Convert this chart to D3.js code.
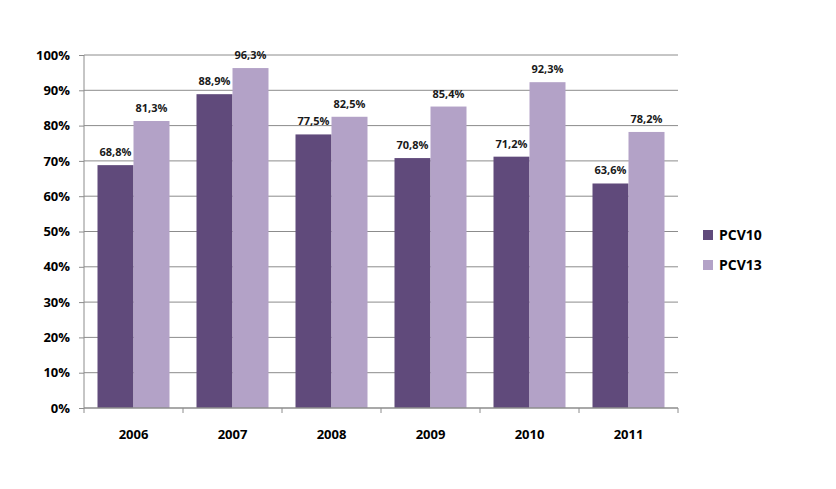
<!DOCTYPE html>
<html>
<head>
<meta charset="utf-8">
<script src="https://cdn.jsdelivr.net/npm/d3@7"></script>
<style>
  body { margin: 0; background: #fff; }
  svg { display: block; font-family: "Open Sans", "DejaVu Sans", sans-serif; }
</style>
</head>
<body>
<svg id="chart"></svg>
<script>
const years = ["2006", "2007", "2008", "2009", "2010", "2011"];
const seriesNames = ["PCV10", "PCV13"];
const pcv10 = [68.8, 88.9, 77.5, 70.8, 71.2, 63.6];
const pcv13 = [81.3, 96.3, 82.5, 85.4, 92.3, 78.2];
const yTicks = [0, 10, 20, 30, 40, 50, 60, 70, 80, 90, 100];
const colors = ["#604a7b", "#b3a2c7"];

const width = 836, height = 489;
const margin = { top: 55, right: 158, bottom: 81, left: 84 };

const svg = d3.select("#chart")
    .attr("width", width)
    .attr("height", height);

const x = d3.scaleBand()
    .domain(years)
    .range([margin.left, width - margin.right])
    .paddingInner(0)
    .paddingOuter(0);

// bars take about 72% of each category
const xInner = d3.scaleBand()
    .domain(seriesNames)
    .range([0, x.bandwidth()])
    .paddingOuter(0.375)
    .paddingInner(0);

const y = d3.scaleLinear()
    .domain([0, 100])
    .range([height - margin.bottom, margin.top]);

const rows = years.map((yr, i) => ({ year: yr, values: [pcv10[i], pcv13[i]] }));

// gridlines
svg.append("g")
    .selectAll("line")
    .data(yTicks.filter(d => d > 0))
    .join("line")
    .attr("x1", margin.left)
    .attr("x2", width - margin.right)
    .attr("y1", d => y(d))
    .attr("y2", d => y(d))
    .attr("stroke", "#8c8c8c")
    .attr("stroke-width", 1);

// bars
const groups = svg.append("g")
    .selectAll("g")
    .data(rows)
    .join("g")
    .attr("transform", d => `translate(${x(d.year)},0)`);

groups.selectAll("rect")
    .data(d => d.values.map((v, j) => ({ key: seriesNames[j], value: v, j })))
    .join("rect")
    .attr("x", d => xInner(d.key))
    .attr("width", xInner.bandwidth())
    .attr("y", d => y(d.value))
    .attr("height", d => y(0) - y(d.value))
    .attr("fill", d => colors[d.j]);

groups.selectAll("text")
    .data(d => d.values.map((v, j) => ({ key: seriesNames[j], value: v })))
    .join("text")
    .attr("x", d => xInner(d.key) + xInner.bandwidth() / 2)
    .attr("y", d => y(d.value) - 9)
    .attr("text-anchor", "middle")
    .attr("font-size", 11)
    .attr("font-weight", "bold")
    .attr("fill", "#1a1a1a")
    .text(d => d.value.toFixed(1).replace(".", ",") + "%");

// y axis
const yAxis = svg.append("g")
    .attr("transform", `translate(${margin.left},0)`)
    .call(d3.axisLeft(y).tickValues(yTicks).tickSize(5).tickPadding(9).tickFormat(d => d + "%"));
yAxis.select(".domain").attr("stroke", "#8c8c8c").attr("d", `M0,${y(0)}V${y(100)}`);
yAxis.selectAll(".tick line").attr("stroke", "#8c8c8c");
yAxis.selectAll(".tick text")
    .attr("font-size", 13)
    .attr("font-weight", "bold")
    .attr("font-family", "'Open Sans', sans-serif")
    .attr("fill", "#000");

// x axis
const xAxis = svg.append("g")
    .attr("transform", `translate(0,${y(0)})`)
    .call(d3.axisBottom(x).tickSize(0).tickPadding(22));
xAxis.select(".domain").attr("stroke", "#8c8c8c").attr("stroke-width", 1.5).attr("d", `M${margin.left},0H${width - margin.right}`);
xAxis.selectAll(".tick text")
    .attr("font-size", 13)
    .attr("font-weight", "bold")
    .attr("font-family", "'Open Sans', sans-serif")
    .attr("fill", "#000");

// category separator ticks
svg.append("g")
    .selectAll("line")
    .data(years.concat(["end"]))
    .join("line")
    .attr("x1", (d, i) => margin.left + i * x.bandwidth())
    .attr("x2", (d, i) => margin.left + i * x.bandwidth())
    .attr("y1", y(0))
    .attr("y2", y(0) + 5)
    .attr("stroke", "#8c8c8c");

// legend
const legend = svg.append("g")
    .attr("transform", "translate(703,230)");

seriesNames.forEach((name, i) => {
    legend.append("rect")
        .attr("x", 0)
        .attr("y", i * 30)
        .attr("width", 10)
        .attr("height", 10)
        .attr("fill", colors[i]);
    legend.append("text")
        .attr("x", 16)
        .attr("y", i * 30 + 10)
        .attr("font-size", 14)
        .attr("font-weight", "bold")
        .attr("fill", "#000")
        .text(name);
});
</script>
</body>
</html>
